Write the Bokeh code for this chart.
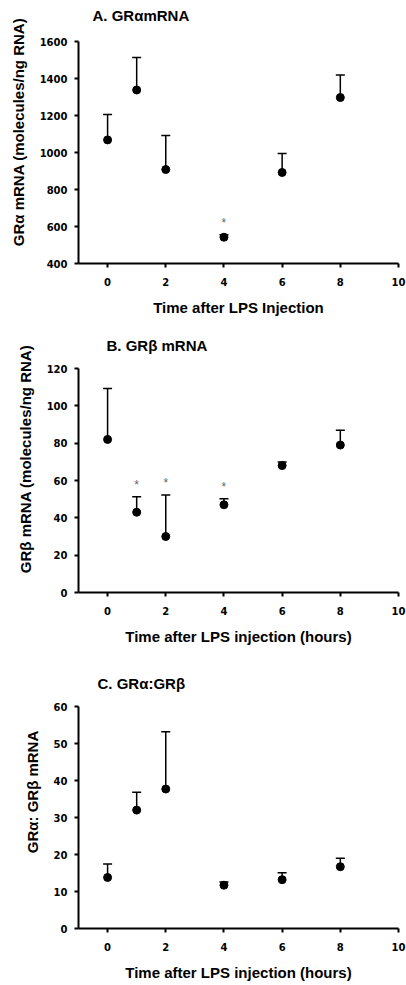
from bokeh.plotting import figure
from bokeh.layouts import column
from bokeh.models import Range1d, FixedTicker, ColumnDataSource, Label
from bokeh.core.properties import value
from bokeh.embed import file_html
from bokeh.resources import INLINE

# ---- data ----
hours = [0, 1, 2, 4, 6, 8]
x_ticks = [0, 2, 4, 6, 8, 10]

gra_mean = [1068, 1338, 908, 542, 892, 1297]
gra_upper = [1205, 1514, 1092, 556, 995, 1419]
gra_sig = [False, False, False, True, False, False]
gra_ticks = [400, 600, 800, 1000, 1200, 1400, 1600]

grb_mean = [82, 43, 30, 47, 68, 79]
grb_upper = [109.3, 51.3, 52.2, 50.2, 69.9, 86.9]
grb_sig = [False, True, True, True, False, False]
grb_ticks = [0, 20, 40, 60, 80, 100, 120]

ratio_mean = [13.8, 32.0, 37.7, 11.7, 13.2, 16.7]
ratio_upper = [17.4, 36.8, 53.2, 12.6, 15.1, 19.0]
ratio_sig = [False, False, False, False, False, False]
ratio_ticks = [0, 10, 20, 30, 40, 50, 60]

FONT = "Liberation Sans"
TICK_FONT = "DejaVu Sans"
X_START, X_END = -1, 10


def panel(title, ylabel, xlabel, mean, upper, sig, yticks, height,
          top_px, bottom, title_dx, title_cy):
    # the plot frame starts at the top of the figure; the space above the
    # highest tick holds the panel title (the y axis line is bounded)
    ybot, ytop = yticks[0], yticks[-1]
    frame_h = height - bottom
    upp = (ytop - ybot) / (frame_h - top_px)        # data units per pixel
    y_end = ytop + top_px * upp

    p = figure(width=406, height=height, output_backend="svg",
               toolbar_location=None,
               x_range=Range1d(X_START, X_END),
               y_range=Range1d(ybot, y_end),
               min_border_left=78, min_border_right=8,
               min_border_top=0, min_border_bottom=bottom)
    p.outline_line_color = None
    p.grid.visible = False
    p.background_fill_color = "white"
    p.border_fill_color = "white"

    for ax in (p.xaxis, p.yaxis):
        ax.axis_line_width = 2
        ax.axis_line_color = "black"
        ax.major_tick_line_width = 2
        ax.major_tick_line_color = "black"
        ax.major_tick_in = 0
        ax.major_tick_out = 4
        ax.minor_tick_line_color = None
        ax.major_label_text_font = TICK_FONT
        ax.major_label_text_font_style = "bold"
        ax.major_label_text_font_size = "10px"
        ax.major_label_text_color = "black"
        ax.axis_label_text_font = FONT
        ax.axis_label_text_font_style = "bold"
        ax.axis_label_text_font_size = "15px"
        ax.axis_label_text_color = "black"
        ax.axis_label_standoff = 10

    p.xaxis.ticker = FixedTicker(ticks=x_ticks)
    p.yaxis.ticker = FixedTicker(ticks=yticks)
    p.yaxis.bounds = (ybot, ytop)
    p.xaxis.major_label_standoff = 10
    p.yaxis.major_label_standoff = 7
    p.xaxis.axis_label = xlabel
    p.yaxis.axis_label = ylabel

    # panel title
    p.add_layout(Label(x=X_START, y=y_end - title_cy * upp, x_offset=title_dx,
                       text=title,
                       text_font=FONT, text_font_size="15px",
                       text_font_style="bold", text_color="black",
                       text_align="left", text_baseline="middle"))

    src = ColumnDataSource(dict(x=hours, y=mean, up=upper))
    p.segment(x0="x", y0="y", x1="x", y1="up", source=src,
              line_color="black", line_width=1.5)
    p.scatter(x="x", y="up", source=src, marker="dash", size=9,
              line_color="black", line_width=1.5)
    p.scatter(x="x", y="y", source=src, marker="circle", size=8,
              fill_color="black", line_color="black")

    sx = [h for h, s in zip(hours, sig) if s]
    sy = [u for u, s in zip(upper, sig) if s]
    if sx:
        p.text(x=sx, y=sy, text=["*"] * len(sx), y_offset=-5,
               text_align="center", text_baseline="bottom",
               text_font=value(FONT), text_font_size="12px",
               text_color="#666666")
    return p


pa = panel("A.  GR\u03b1mRNA", "GR\u03b1 mRNA (molecules/ng RNA)",
           "Time after LPS Injection", gra_mean, gra_upper, gra_sig,
           gra_ticks, 325, 41, 62, 14, 15)
pb = panel("B.  GR\u03b2 mRNA", "GR\u03b2 mRNA (molecules/ng RNA)",
           "Time after LPS injection (hours)", grb_mean, grb_upper, grb_sig,
           grb_ticks, 330, 43, 63, 28, 20)
pc = panel("C.  GR\u03b1:GR\u03b2", "GR\u03b1: GR\u03b2 mRNA",
           "Time after LPS injection (hours)", ratio_mean, ratio_upper,
           ratio_sig, ratio_ticks, 330, 51, 57, 19, 28)

layout = column(pa, pb, pc, spacing=0)
open("out.html", "w").write(file_html(layout, INLINE))
